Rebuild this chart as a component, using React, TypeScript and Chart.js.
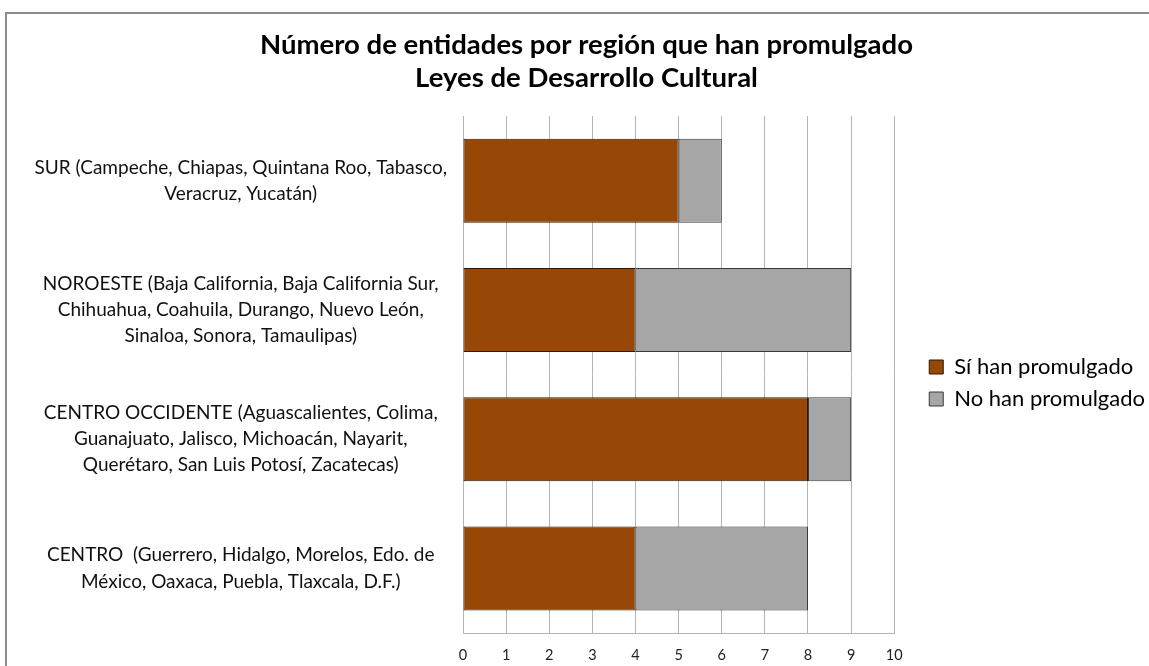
import React, { useEffect, useRef } from "react";
import { Chart, registerables } from "chart.js";

Chart.register(...registerables);

const categories: string[][] = [
  ["SUR (Campeche, Chiapas, Quintana Roo, Tabasco,", "Veracruz, Yucatán)"],
  ["NOROESTE (Baja California, Baja California Sur,", "Chihuahua, Coahuila, Durango, Nuevo León,", "Sinaloa, Sonora, Tamaulipas)"],
  ["CENTRO OCCIDENTE (Aguascalientes, Colima,", "Guanajuato, Jalisco, Michoacán, Nayarit,", "Querétaro, San Luis Potosí, Zacatecas)"],
  ["CENTRO  (Guerrero, Hidalgo, Morelos, Edo. de", "México, Oaxaca, Puebla, Tlaxcala, D.F.)"],
];
const siHanPromulgado: number[] = [5, 4, 8, 4];
const noHanPromulgado: number[] = [1, 5, 1, 4];
const seriesNames: string[] = ["Sí han promulgado", "No han promulgado"];
const titleLines: string[] = ["Número de entidades por región que han promulgado", "Leyes de Desarrollo Cultural"];
const xMin = 0;
const xMax = 10;

const boxShift = {
  id: "boxShift",
  afterLayout(chart: any) {
    const l = chart.legend;
    if (l) {
      l.left += 25;
      l.right += 25;
    }
    const t = chart.titleBlock;
    if (t) {
      t.left += 18;
      t.right += 18;
    }
  },
};

export default function App() {
  const ref = useRef<HTMLCanvasElement | null>(null);
  useEffect(() => {
    if (!ref.current) return;
    const gridColor = "#B5B5B5";
    const chart = new Chart(ref.current, {
      type: "bar",
      data: {
        labels: categories,
        datasets: [
          {
            label: seriesNames[0],
            data: siHanPromulgado,
            backgroundColor: "#974806",
            borderColor: "#2a1a0a",
            borderWidth: 1,
            borderSkipped: false,
            barPercentage: 0.65,
            categoryPercentage: 1,
          },
          {
            label: seriesNames[1],
            data: noHanPromulgado,
            backgroundColor: "#A6A6A6",
            borderColor: "#3a3a3a",
            borderWidth: 1,
            borderSkipped: false,
            barPercentage: 0.65,
            categoryPercentage: 1,
          },
        ],
      },
      options: {
        indexAxis: "y",
        responsive: false,
        animation: false,
        layout: { padding: { left: 0, right: 30, top: 0, bottom: 0 } },
        plugins: {
          title: {
            display: true,
            text: titleLines,
            color: "#000",
            font: { family: "Lato", size: 27.5, weight: "bold", lineHeight: 1.22 },
            padding: { top: 14, bottom: 21 },
          },
          legend: {
            position: "right",
            title: {
              display: true,
              text: " ",
              font: { family: "Lato", size: 20, lineHeight: 1.2 },
              padding: { top: 17, bottom: 17 },
            },
            labels: {
              font: { family: "Lato", size: 22 },
              color: "#000",
              boxWidth: 14,
              boxHeight: 14,
              padding: 10,
            },
          },
          tooltip: { enabled: false },
        },
        scales: {
          x: {
            stacked: true,
            min: xMin,
            max: xMax,
            ticks: {
              stepSize: 1,
              color: "#222",
              font: { family: "Lato", size: 14.5 },
              padding: 14,
            },
            grid: { color: gridColor, drawTicks: false, lineWidth: 1 },
            border: { display: true, color: gridColor },
            afterFit: (s: any) => {
              s.height = 61;
            },
          },
          y: {
            stacked: true,
            ticks: {
              crossAlign: "center",
              color: "#111",
              font: { family: "Lato", size: 19, lineHeight: 1.37 },
              padding: 16,
            },
            grid: { display: false, drawTicks: false },
            border: { display: true, color: gridColor },
            afterFit: (s: any) => {
              s.width = 456;
            },
          },
        },
      } as any,
      plugins: [boxShift],
    });
    return () => chart.destroy();
  }, []);

  return (
    <div
      style={{
        position: "fixed",
        left: 0,
        top: 0,
        width: 1149,
        height: 666,
        overflow: "hidden",
        background: "#fff",
      }}
    >
      <div
        style={{
          position: "absolute",
          left: 5,
          top: 12,
          width: 2000,
          height: 2000,
          border: "2px solid #8c8c8c",
        }}
      />
      <canvas
        ref={ref}
        width={1153}
        height={680}
        style={{ position: "absolute", left: 7, top: 14, width: 1153, height: 680 }}
      />
    </div>
  );
}
